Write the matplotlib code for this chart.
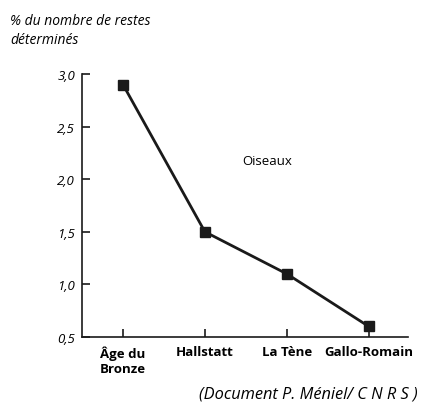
import matplotlib
matplotlib.use("Agg")
import matplotlib.pyplot as plt

periodes = ["Âge du\nBronze", "Hallstatt", "La Tène", "Gallo-Romain"]
pourcentages = [2.9, 1.5, 1.1, 0.6]
yticks = [0.5, 1.0, 1.5, 2.0, 2.5, 3.0]

plt.rcParams['font.family'] = ['Open Sans', 'DejaVu Sans']

fig = plt.figure(figsize=(4.26, 4.10), dpi=100)
ax = fig.add_axes([0.1925, 0.1756, 0.7655, 0.6414])

x = list(range(len(periodes)))
ax.plot(x, pourcentages, color='#1a1a1a', lw=2, marker='s', ms=7.5,
        markerfacecolor='#1a1a1a', markeredgecolor='#1a1a1a')

ax.set_xlim(-0.5, 3.48)
ax.set_ylim(0.5, 3.0)
ax.set_xticks(x)
ax.set_xticklabels(periodes, fontweight='bold', fontsize=9.5, ha='center', va='top')
ax.set_yticks(yticks)
ax.set_yticklabels([f"{v:.1f}".replace('.', ',') for v in yticks],
                   fontstyle='italic', fontsize=9.5)
ax.tick_params(axis='both', direction='in', length=6, width=1.2, color='#1a1a1a')
ax.tick_params(axis='x', pad=6)
ax.tick_params(axis='y', pad=5)

for s in ['top', 'right']:
    ax.spines[s].set_visible(False)
for s in ['left', 'bottom']:
    ax.spines[s].set_linewidth(1.2)
    ax.spines[s].set_color('#1a1a1a')

ax.text(1.76, 2.18, "Oiseaux", fontsize=9.5, ha='center', va='center')

fig.text(10 / 426, 1 - 31 / 410, "% du nombre de restes\ndéterminés",
         fontstyle='italic', fontsize=10, ha='left', va='center', linespacing=1.3)
fig.text(308 / 426, 1 - 395 / 410, "(Document P. Méniel/ C N R S )",
         fontstyle='italic', fontsize=11.8, ha='center', va='center')

fig.savefig("out.png", dpi=100)
